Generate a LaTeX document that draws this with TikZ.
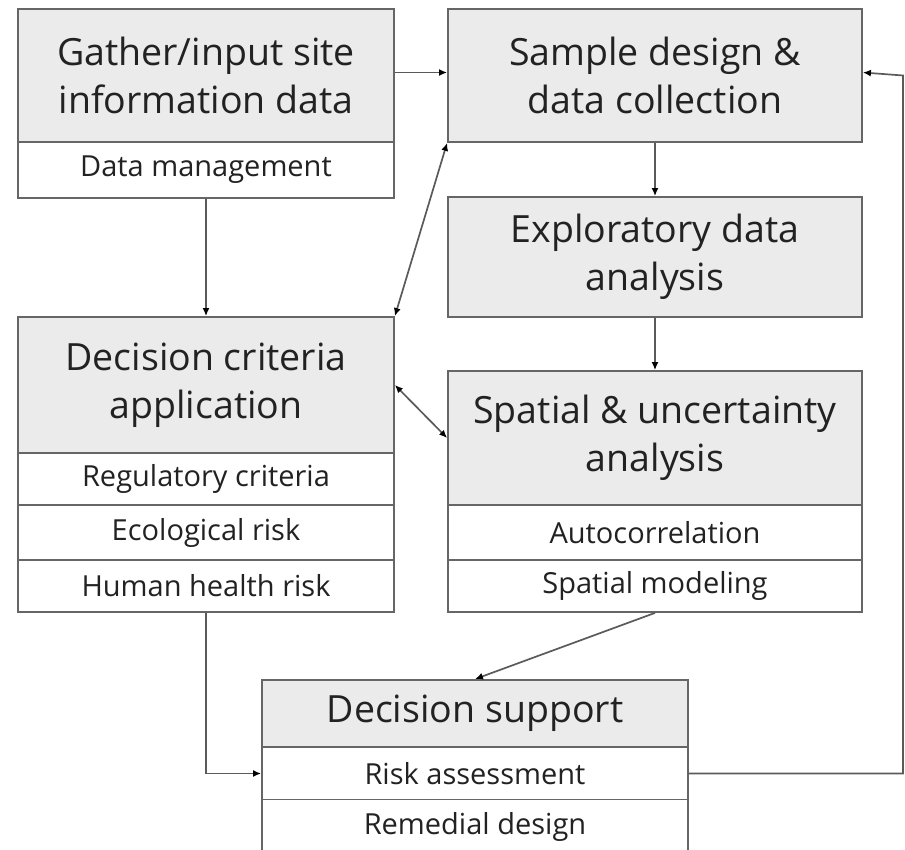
\documentclass[tikz,border=0pt]{standalone}
\usepackage{fontspec}
\setmainfont{Open Sans}
\usetikzlibrary{arrows.meta}
\definecolor{boxline}{HTML}{666666}
\definecolor{hdrfill}{HTML}{EBEBEB}
\definecolor{conn}{HTML}{5A5A5A}
\definecolor{txt}{HTML}{222222}
\tikzset{
  hdr/.style={draw=boxline, line width=1.8pt, fill=hdrfill, inner sep=0pt, align=center,
    text=txt, font=\fontsize{37.5}{48}\selectfont},
  sub/.style={draw=boxline, line width=1.8pt, fill=white, inner sep=0pt, align=center,
    text=txt, font=\fontsize{29}{32}\selectfont},
  tipA/.tip={Latex[length=8pt,width=7pt,black]},
  conn/.style={draw=conn, line width=1.7pt},
  arr/.style={conn, -tipA},
  darr/.style={conn, tipA-tipA},
}
\begin{document}
\begin{tikzpicture}[x=1pt,y=-1pt]
\useasboundingbox (0,0) rectangle (905,850);
% Gather box
\node[hdr, minimum width=376pt, minimum height=133pt] (A) at (206,75.5) {Gather/input site\\information data};
\node[sub, minimum width=376pt, minimum height=56pt] (A1) at (206,170) {Data management};
% Sample design
\node[hdr, minimum width=414pt, minimum height=133pt] (B) at (655,75.5) {Sample design \&\\data collection};
% Exploratory
\node[hdr, minimum width=414pt, minimum height=120pt] (C) at (655,257) {Exploratory data\\analysis};
% Decision criteria
\node[hdr, minimum width=376pt, minimum height=136pt] (D) at (206,385) {Decision criteria\\application};
\node[sub, minimum width=376pt, minimum height=52pt] (D1) at (206,479) {Regulatory criteria};
\node[sub, minimum width=376pt, minimum height=55pt] (D2) at (206,532.5) {Ecological risk};
\node[sub, minimum width=376pt, minimum height=52pt] (D3) at (206,586) {Human health risk};
% Spatial
\node[hdr, minimum width=414pt, minimum height=134pt] (E) at (655,438) {Spatial \& uncertainty\\analysis};
\node[sub, minimum width=414pt, minimum height=55pt] (E1) at (655,532.5) {Autocorrelation};
\node[sub, minimum width=414pt, minimum height=52pt] (E2) at (655,586) {Spatial modeling};
% Decision support
\node[hdr, minimum width=426pt, minimum height=67pt] (F) at (475,713.5) {Decision support};
\node[sub, minimum width=426pt, minimum height=53pt] (F1) at (475,773.5) {Risk assessment};
\node[sub, minimum width=426pt, minimum height=55pt] (F2) at (475,827) {Remedial design};
% connectors
\coordinate (R) at (903,0);
\draw[arr] ([yshift=3pt]A.east) -- ([yshift=3pt]B.west);
\draw[arr] (A1.south) -- (D.north);
\draw[darr] (D.north east) -- (B.south west);
\draw[arr] (B.south) -- (C.north);
\draw[arr] (C.south) -- (E.north);
\draw[darr] (D.east) -- (E.west);
\draw[arr] (E2.south) -- (F.north);
\draw[arr] (D3.south) |- (F1.west);
\draw[arr] (F1.east) -| (R |- B.east) -- ([yshift=3pt]B.east);
\end{tikzpicture}
\end{document}
